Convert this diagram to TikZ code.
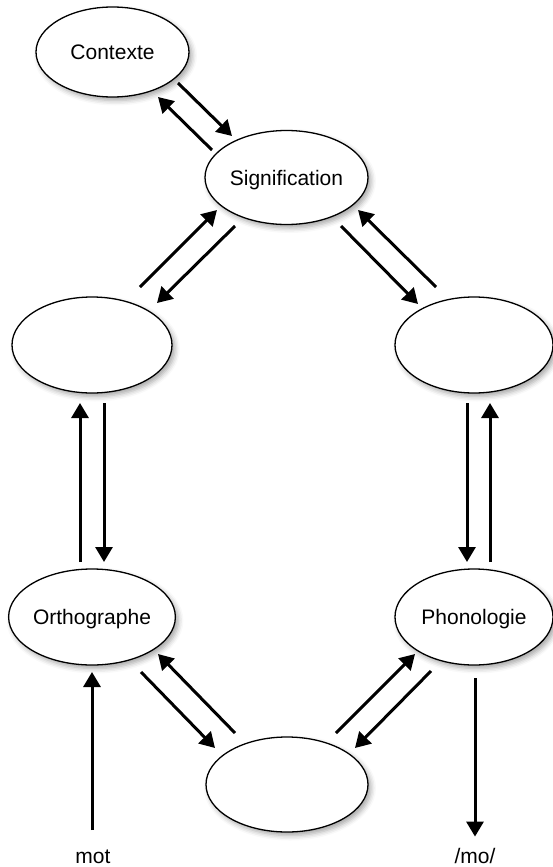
\documentclass[tikz,border=0pt]{standalone}
\usepackage{fontspec}
\setmainfont{Liberation Sans}
\usetikzlibrary{arrows.meta,calc,shapes.geometric,shadows.blur}
\begin{document}
\begin{tikzpicture}[x=1pt,y=-1pt,
  bubble/.style={ellipse, draw=black, line width=1.3pt, fill=white,
    inner sep=0pt, outer sep=0pt, text height=15pt, text depth=0pt,
    font=\fontsize{21}{25}\selectfont,
    blur shadow={shadow xshift=3pt, shadow yshift=-3.5pt,
      shadow blur radius=5pt, shadow opacity=35}},
  link/.style={line width=3pt, -{Triangle[length=15pt,width=17pt]}},
  lbl/.style={inner sep=0pt, anchor=base, font=\fontsize{21}{25}\selectfont}]
\useasboundingbox (0,0) rectangle (552,867);

% the seven processors
\node[bubble, minimum width=153pt, minimum height=90pt] (ctx) at (112.5,52) {Contexte};
\node[bubble, minimum width=163pt, minimum height=94pt] (sig) at (286.5,177.5) {Signification};
\node[bubble, minimum width=160pt, minimum height=96pt] (lm)  at (92,345) {};
\node[bubble, minimum width=158pt, minimum height=96pt] (rm)  at (474,345) {};
\node[bubble, minimum width=160pt, minimum height=96pt] (ort) at (92,617) {Orthographe};
\node[bubble, minimum width=158pt, minimum height=96pt] (pho) at (474,617) {Phonologie};
\node[bubble, minimum width=162pt, minimum height=95pt] (bot) at (287,784.5) {};

% input and output labels
\node[lbl] (mot) at (93,863) {mot};
\node[lbl] (mo)  at (475,863) {/mo/};

% context <-> meaning
\draw[link] ($(ctx)+(65.5,31)$) -- ($(sig)+(-54.5,-41.5)$);
\draw[link] ($(sig)+(-74.5,-27.5)$) -- ($(ctx)+(45.5,45)$);

% meaning <-> left and right middle
\draw[link] ($(sig)+(-51.5,48.5)$) -- ($(lm)+(65,-42)$);
\draw[link] ($(lm)+(48,-58)$) -- ($(sig)+(-69.5,32.5)$);
\draw[link] ($(sig)+(54.5,48.5)$) -- ($(rm)+(-56,-41)$);
\draw[link] ($(rm)+(-38,-58)$) -- ($(sig)+(71.5,32.5)$);

% vertical pairs
\draw[link] ($(lm)+(12,58)$) -- ($(ort)+(12,-55)$);
\draw[link] ($(ort)+(-12,-55)$) -- ($(lm)+(-12,58)$);
\draw[link] ($(rm)+(-7,58)$) -- ($(pho)+(-7,-55)$);
\draw[link] ($(pho)+(16,-55)$) -- ($(rm)+(16,58)$);

% orthography/phonology <-> bottom
\draw[link] ($(ort)+(49,55)$) -- ($(bot)+(-72,-36.5)$);
\draw[link] ($(bot)+(-52,-51.5)$) -- ($(ort)+(66,37)$);
\draw[link] ($(bot)+(49,-51.5)$) -- ($(pho)+(-59,37)$);
\draw[link] ($(pho)+(-43,54)$) -- ($(bot)+(68,-36.5)$);

% input word and spoken output
\draw[link, shorten <=19pt] (mot.north -| ort) -- ($(ort)+(0,55)$);
\draw[link, shorten >=11pt] ($(pho)+(1,61)$) -- (mo.north);
\end{tikzpicture}
\end{document}
